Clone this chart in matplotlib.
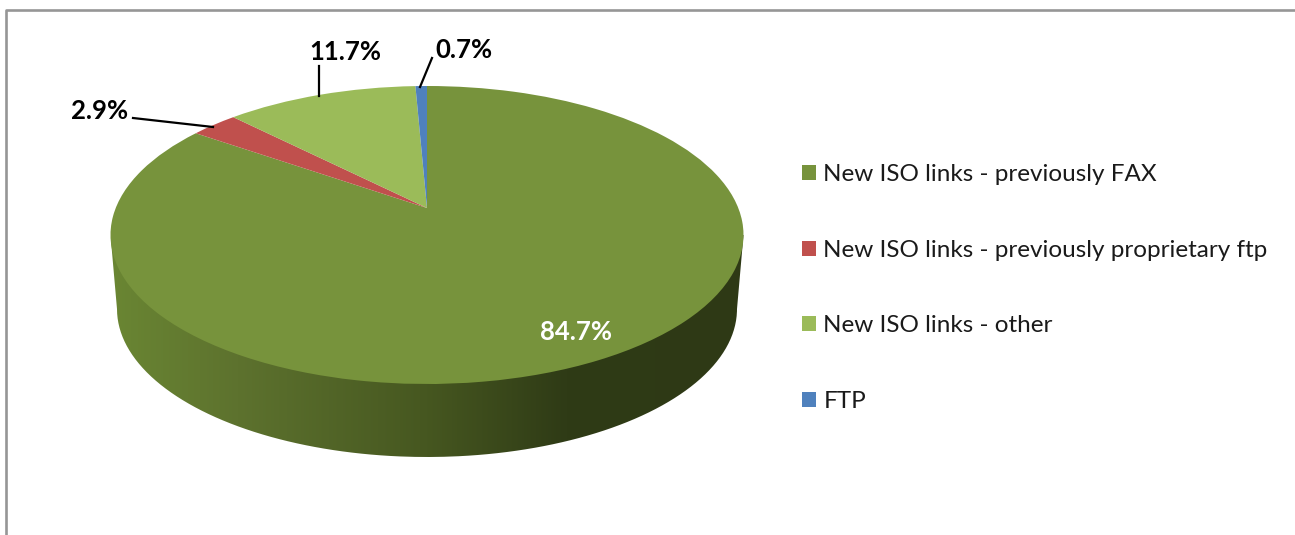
import numpy as np
import matplotlib
matplotlib.use("Agg")
import matplotlib.pyplot as plt
from matplotlib.colors import LinearSegmentedColormap
from matplotlib.patches import PathPatch
from matplotlib.path import Path
from matplotlib.transforms import Transform

plt.rcParams['font.family'] = ['Lato', 'DejaVu Sans']

labels = ['New ISO links - previously FAX', 'New ISO links - previously proprietary ftp',
          'New ISO links - other', 'FTP']
values = [84.7, 2.9, 11.7, 0.7]
colors = ['#77933C', '#C0504D', '#9BBB59', '#4F81BD']

# pixel geometry of the tilted disk
cx, cy = 427, 235
rx, ry = 316.5, 149
apex_up = 27
c = apex_up / ry


class TiltedDisk(Transform):
    # perspective view of the unit circle, result in pixel coordinates
    input_dims = 2
    output_dims = 2

    def transform_non_affine(self, values):
        values = np.asarray(values, dtype=float)
        u, v = values[:, 0], values[:, 1]
        w = 1 + c * v
        x = cx + rx * np.sqrt(1 - c ** 2) * u / w
        y = cy - (ry * v + apex_up) / w
        return np.column_stack([x, y])


fig = plt.figure(figsize=(12.95, 5.35), dpi=100)
ax = fig.add_axes([0, 0, 1, 1])

wedges, _ = ax.pie(values, colors=colors, startangle=90, counterclock=False,
                   wedgeprops={'linewidth': 0})
ax.set_aspect('auto')
ax.set_xlim(0, 1295)
ax.set_ylim(535, 0)

view = TiltedDisk()
for w in wedges:
    w.set_transform(view + ax.transData)
    w.set_zorder(3)

# side wall, shaded left to right
t = np.linspace(np.pi, 2 * np.pi, 200)
wall_x = cx + 310 * np.cos(t)
wall_y = 309 - 148 * np.sin(t)
wall_pts = np.column_stack([np.r_[cx - rx, wall_x, cx + rx], np.r_[cy, wall_y, cy]])
wall = PathPatch(Path(wall_pts), transform=ax.transData, facecolor='none', edgecolor='none')
ax.add_patch(wall)
shade = LinearSegmentedColormap.from_list('shade', [
    (0.0, '#6A8633'), (0.2, '#5D722E'), (0.5, '#465720'), (0.72, '#2F3B16'), (1.0, '#2E3915')])
grad = ax.imshow(np.linspace(0, 1, 256)[None, :], cmap=shade, aspect='auto',
                 extent=(cx - rx, cx + rx, 460, cy), zorder=2)
grad.set_clip_path(wall)
ax.set_xlim(0, 1295)
ax.set_ylim(535, 0)

# outer chart border, cut by the screenshot on the right and bottom
ax.plot([6, 6, 1295], [535, 10, 10], color='#969696', lw=1.9, zorder=1)

# data labels
ax.text(576, 332, f'{values[0]}%', color='white', fontsize=18.5, fontweight='bold',
        ha='center', va='center', zorder=5)
ax.text(100, 111, f'{values[1]}%', color='black', fontsize=18.5, fontweight='bold',
        ha='center', va='center', zorder=5)
ax.text(345, 52, f'{values[2]}%', color='black', fontsize=18.5, fontweight='bold',
        ha='center', va='center', zorder=5)
ax.text(464, 50, f'{values[3]}%', color='black', fontsize=18.5, fontweight='bold',
        ha='center', va='center', zorder=5)

# leader lines
ax.plot([133, 213], [118, 127], color='black', lw=1.6, zorder=5)
ax.plot([319, 319], [66, 96], color='black', lw=1.6, zorder=5)
ax.plot([432, 420], [58, 87], color='black', lw=1.6, zorder=5)

leg = ax.legend(wedges, labels, loc='upper left', bbox_to_anchor=(802 / 1295, 1 - 164 / 535),
                frameon=False, fontsize=17.5, labelcolor='#1A1A1A', handlelength=0.58,
                handleheight=0.58, handletextpad=0.3, labelspacing=2.25, borderpad=0, borderaxespad=0)

ax.axis('off')
fig.savefig('out.png', dpi=100, facecolor='white')
